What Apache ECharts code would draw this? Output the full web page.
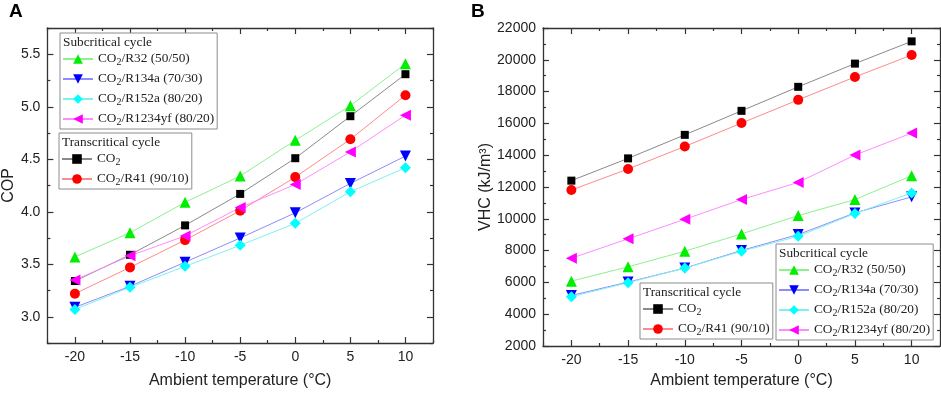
<!DOCTYPE html>
<html>
<head>
<meta charset="utf-8">
<script src="https://cdn.jsdelivr.net/npm/echarts@6/dist/echarts.min.js"></script>
<style>
  html, body { margin: 0; padding: 0; background: #fff; }
  #chart { width: 941px; height: 394px; }
</style>
</head>
<body>
<div id="chart"></div>
<script>
// x values (ambient temperature, °C)
const temps = [-20, -15, -10, -5, 0, 5, 10];

// COP (panel A)
const copCO2 = [3.34, 3.59, 3.87, 4.17, 4.51, 4.91, 5.31];
const copR41 = [3.22, 3.47, 3.73, 4.01, 4.33, 4.69, 5.11];
const copR32 = [3.57, 3.80, 4.09, 4.34, 4.68, 5.01, 5.41];
const copR134a = [3.09, 3.29, 3.52, 3.75, 3.99, 4.27, 4.53];
const copR152a = [3.07, 3.28, 3.48, 3.68, 3.89, 4.19, 4.42];
const copR1234yf = [3.35, 3.58, 3.77, 4.04, 4.26, 4.57, 4.92];

// VHC, kJ/m3 (panel B)
const vhcCO2 = [12400, 13800, 15280, 16790, 18300, 19760, 21160];
const vhcR41 = [11810, 13130, 14550, 16020, 17480, 18920, 20300];
const vhcR32 = [6080, 6980, 7960, 9050, 10200, 11210, 12710];
const vhcR134a = [5180, 6020, 6900, 8010, 9010, 10370, 11380];
const vhcR152a = [5100, 5980, 6900, 7960, 8900, 10330, 11630];
const vhcR1234yf = [7520, 8740, 9970, 11210, 12290, 14010, 15390];

// ticks
const xTicks = [-20, -15, -10, -5, 0, 5, 10];
const xMinor = [-22.5, -17.5, -12.5, -7.5, -2.5, 2.5, 7.5, 12.5];
const copTicks = [3.0, 3.5, 4.0, 4.5, 5.0, 5.5];
const copMinor = [2.75, 3.25, 3.75, 4.25, 4.75, 5.25, 5.75];
const vhcTicks = [2000, 4000, 6000, 8000, 10000, 12000, 14000, 16000, 18000, 20000, 22000];
const vhcMinor = [3000, 5000, 7000, 9000, 11000, 13000, 15000, 17000, 19000, 21000];

// legend names
const nCO2 = 'CO2';
const nR41 = 'CO2/R41 (90/10)';
const nR32 = 'CO2/R32 (50/50)';
const nR134a = 'CO2/R134a (70/30)';
const nR152a = 'CO2/R152a (80/20)';
const nR1234yf = 'CO2/R1234yf (80/20)';

const sans = 'Liberation Sans, Arial, sans-serif';
const serif = 'Liberation Serif, Times New Roman, serif';
const axisColor = '#333';

const chart = echarts.init(document.getElementById('chart'));

// builds the 4 axes (main + minor ticks, both sides) for one direction of one grid
const makeAxes = (dir, gridIndex, min, max, majors, minors, label, name, nameGap) => {
    const sides = dir === 'x' ? ['bottom', 'top'] : ['left', 'right'];
    const out = [];
    sides.forEach((pos, i) => {
        out.push({
            type: 'value', gridIndex, position: pos, min, max,
            axisLine: { show: true, onZero: false, lineStyle: { color: axisColor, width: 1.3 } },
            axisTick: { show: true, inside: true, length: 6, customValues: majors, lineStyle: { color: axisColor, width: 1.2 } },
            axisLabel: i === 0 ? Object.assign({
                show: true, customValues: majors, fontSize: 14, fontFamily: sans, color: '#222', margin: 7,
                formatter: v => String(v)
            }, label) : { show: false },
            splitLine: { show: false },
            name: i === 0 ? name : '',
            nameLocation: 'middle',
            nameGap,
            nameTextStyle: { fontSize: 16, fontFamily: sans, color: '#222' }
        });
        out.push({
            type: 'value', gridIndex, position: pos, min, max,
            axisLine: { show: false, onZero: false },
            axisTick: { show: true, inside: true, length: 3, customValues: minors, lineStyle: { color: axisColor, width: 1.2 } },
            axisLabel: { show: false },
            splitLine: { show: false }
        });
    });
    return out;
};

const xAxes = [
    ...makeAxes('x', 0, -22.5, 12.5, xTicks, xMinor, {}, 'Ambient temperature (°C)', 30),
    ...makeAxes('x', 1, -22.5, 12.5, xTicks, xMinor, {}, 'Ambient temperature (°C)', 27)
];
const yAxes = [
    ...makeAxes('y', 0, 2.75, 5.75, copTicks, copMinor, { formatter: v => v.toFixed(1) }, 'COP', 29),
    ...makeAxes('y', 1, 2000, 22000, vhcTicks, vhcMinor, {}, 'VHC (kJ/m³)', 48)
];

const styles = {
    [nCO2]: { color: '#000000', line: '#8a8a8a', symbol: 'rect', size: 8, rotate: 0 },
    [nR41]: { color: '#ff0000', line: '#ff8a8a', symbol: 'circle', size: 10, rotate: 0 },
    [nR32]: { color: '#00ee00', line: '#8cf28c', symbol: 'triangle', size: 11, rotate: 0 },
    [nR134a]: { color: '#0000ff', line: '#8c8cff', symbol: 'triangle', size: 11, rotate: 180 },
    [nR152a]: { color: '#00ffff', line: '#7ff0f0', symbol: 'diamond', size: 11, rotate: 0 },
    [nR1234yf]: { color: '#ff00ff', line: '#ff8cff', symbol: 'triangle', size: 11, rotate: 90 }
};

const makeSeries = (name, values, xi, yi) => {
    const s = styles[name];
    return {
        name, type: 'line', xAxisIndex: xi, yAxisIndex: yi,
        data: temps.map((t, i) => [t, values[i]]),
        symbol: s.symbol, symbolSize: s.size, symbolRotate: s.rotate,
        itemStyle: { color: s.color },
        lineStyle: { color: s.line, width: 1 },
        emphasis: { disabled: true },
        animation: false
    };
};

const series = [
    makeSeries(nCO2, copCO2, 0, 0),
    makeSeries(nR41, copR41, 0, 0),
    makeSeries(nR32, copR32, 0, 0),
    makeSeries(nR134a, copR134a, 0, 0),
    makeSeries(nR152a, copR152a, 0, 0),
    makeSeries(nR1234yf, copR1234yf, 0, 0),
    makeSeries(nCO2, vhcCO2, 4, 4),
    makeSeries(nR41, vhcR41, 4, 4),
    makeSeries(nR32, vhcR32, 4, 4),
    makeSeries(nR134a, vhcR134a, 4, 4),
    makeSeries(nR152a, vhcR152a, 4, 4),
    makeSeries(nR1234yf, vhcR1234yf, 4, 4)
];

// legend box with a title text at its top
const makeLegend = (names, left, top) => ({
    data: names,
    orient: 'vertical',
    left, top,
    padding: [18, 3, 2, 2],
    itemGap: 4,
    itemWidth: 30,
    itemHeight: 12,
    selectedMode: false,
    borderColor: '#8c8c8c',
    borderWidth: 1,
    backgroundColor: '#fff',
    formatter: n => n.replace('CO2', 'CO{sub|2}'),
    textStyle: {
        fontFamily: serif, fontSize: 13.3, color: '#222', lineHeight: 16,
        rich: {
            sub: { fontFamily: serif, fontSize: 10, lineHeight: 10, padding: [6, 0, 0, 0], color: '#222' }
        }
    }
});

const legendTitle = (text, left, top) => ({
    text, left, top, padding: 0,
    textStyle: { fontFamily: serif, fontSize: 13.3, fontWeight: 'normal', color: '#222', lineHeight: 16 },
    z: 10
});

const panelLabel = (text, left) => ({
    text, left, top: 2, padding: 0,
    textStyle: { fontFamily: sans, fontSize: 19, fontWeight: 'bold', color: '#000' }
});

chart.setOption({
    animation: false,
    backgroundColor: '#fff',
    grid: [
        { left: 44, right: 508, top: 28, bottom: 51 },
        { left: 543, right: 1, top: 28, bottom: 47 }
    ],
    xAxis: xAxes,
    yAxis: yAxes,
    legend: [
        makeLegend([nR32, nR134a, nR152a, nR1234yf], 60, 33),
        makeLegend([nCO2, nR41], 59, 133),
        makeLegend([nCO2, nR41], 640, 283),
        makeLegend([nR32, nR134a, nR152a, nR1234yf], 776, 244)
    ],
    title: [
        panelLabel('A', 9),
        panelLabel('B', 471),
        legendTitle('Subcritical cycle', 63, 35),
        legendTitle('Transcritical cycle', 62, 135),
        legendTitle('Transcritical cycle', 643, 285),
        legendTitle('Subcritical cycle', 779, 246)
    ],
    series
});
</script>
</body>
</html>
